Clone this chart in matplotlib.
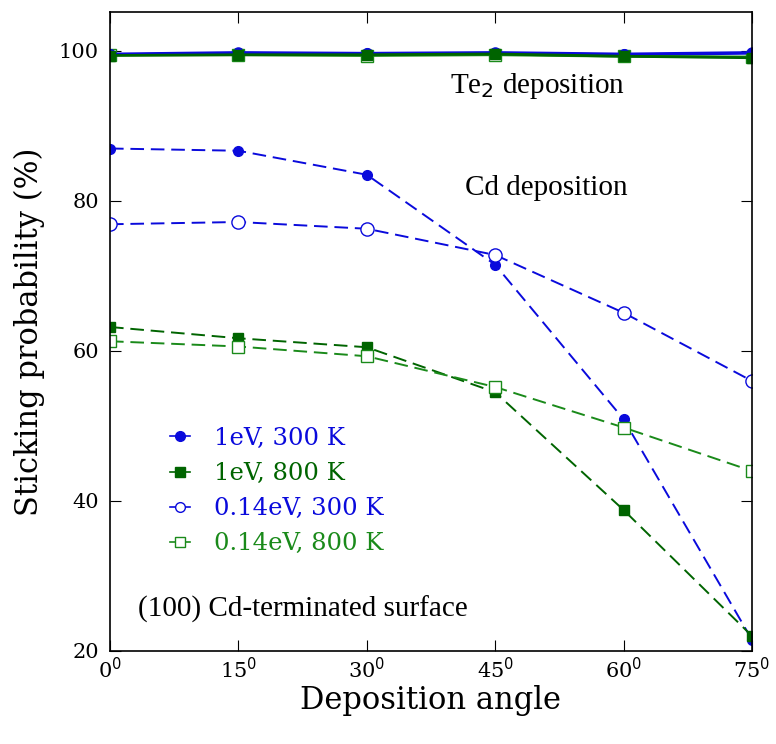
import matplotlib
matplotlib.use("Agg")
import matplotlib.pyplot as plt

angles = [0, 15, 30, 45, 60, 75]
xtick_labels = ["0$^0$", "15$^0$", "30$^0$", "45$^0$", "60$^0$", "75$^0$"]

# Cd deposition
cd_1ev_300 = [87.0, 86.7, 83.5, 71.5, 50.9, 21.5]
cd_1ev_800 = [63.2, 61.7, 60.5, 54.5, 38.8, 22.0]
cd_014_300 = [76.9, 77.2, 76.3, 72.8, 65.1, 56.0]
cd_014_800 = [61.3, 60.6, 59.3, 55.2, 49.8, 44.0]

# Te2 deposition
te_1ev_300 = [99.6, 99.8, 99.7, 99.8, 99.6, 99.8]
te_1ev_800 = [99.4, 99.5, 99.5, 99.6, 99.3, 99.1]
te_014_300 = [99.5, 99.7, 99.6, 99.7, 99.5, 99.7]
te_014_800 = [99.5, 99.5, 99.4, 99.5, 99.3, 99.2]

blue = "#0a0adc"
dgreen = "#006400"
lgreen = "#1a8a1a"

plt.rcParams['font.family'] = ['DejaVu Serif']
fig = plt.figure(figsize=(7.76, 7.44), dpi=100)
ax = fig.add_axes([110/776, 1-651/744, 642/776, 639/744])

dash = (0, (7, 3.5))
ax.plot(angles, cd_1ev_300, linestyle=dash, color=blue, marker='o', ms=7, lw=1.4)
ax.plot(angles, cd_1ev_800, linestyle=dash, color=dgreen, marker='s', ms=7, lw=1.4)
ax.plot(angles, cd_014_300, linestyle=dash, color=blue, marker='o', ms=9.5, mfc='white', lw=1.4)
ax.plot(angles, cd_014_800, linestyle=dash, color=lgreen, marker='s', ms=8, mfc='white', lw=1.4)

ax.plot(angles, te_014_300, '-', color=blue, marker='o', ms=8, mfc='white', lw=2)
ax.plot(angles, te_014_800, '-', color=lgreen, marker='s', ms=8, mfc='white', lw=2)
ax.plot(angles, te_1ev_300, '-', color=blue, marker='o', ms=7, lw=2)
ax.plot(angles, te_1ev_800, '-', color=dgreen, marker='s', ms=7, lw=2)

ax.set_xlim(0, 75)
ax.set_ylim(20, 105.2)
ax.set_xticks(angles)
ax.set_xticklabels(xtick_labels)
ax.set_yticks([20, 40, 60, 80, 100])
ax.tick_params(direction='in', top=True, right=True, labelsize=15, length=8, pad=8)
ax.tick_params(axis='x', pad=4)
for s in ax.spines.values():
    s.set_linewidth(1.2)

ax.set_xlabel("Deposition angle", fontsize=22, labelpad=2)
ax.set_ylabel("Sticking probability (%)", fontsize=22, labelpad=10)

ax.text(39.7, 95.3, "Te$_2$ deposition", fontsize=21, family='Liberation Serif', va='center')
ax.text(41.5, 81.7, "Cd deposition", fontsize=21, family='Liberation Serif', va='center')
ax.text(3.3, 25.5, "(100) Cd-terminated surface", fontsize=21, family='Liberation Serif', va='center')

legend_items = [
    ("1eV, 300 K", blue, 'o', blue),
    ("1eV, 800 K", dgreen, 's', dgreen),
    ("0.14eV, 300 K", blue, 'o', 'white'),
    ("0.14eV, 800 K", lgreen, 's', 'white'),
]
handles = []
for label, c, m, fc in legend_items:
    h, = ax.plot([], [], '-', color=c, marker=m, mfc=fc, ms=7, lw=1.2, label=label)
    handles.append(h)
leg = ax.legend(handles=handles, loc='upper left', bbox_to_anchor=(0.06, 0.385),
                frameon=False, fontsize=17.5, handlelength=0.8, handletextpad=1.0,
                labelspacing=0.5)
for t, (_, c, _, _) in zip(leg.get_texts(), legend_items):
    t.set_color(c)

fig.savefig("out.png", dpi=100)
